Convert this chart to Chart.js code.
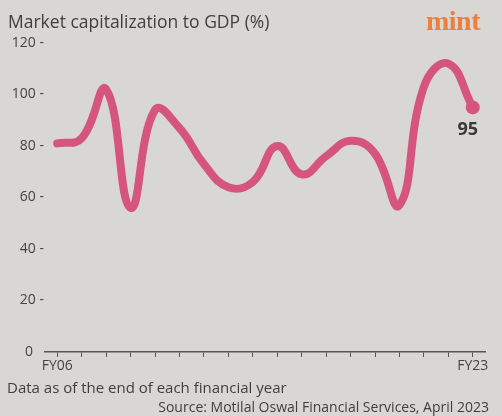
<!DOCTYPE html>
<html>
<head>
<meta charset="utf-8">
<script src="https://cdn.jsdelivr.net/npm/chart.js"></script>
<style>
    body { margin: 0; background: #d9d7d3; }
    #wrap { position: relative; width: 502px; height: 416px; overflow: hidden; background: #d9d7d3; font-family: "Open Sans", sans-serif; color: #3f3f3f; }
    #chartCanvas { position: absolute; left: 0; top: 0; }
    .txt { position: absolute; white-space: nowrap; }
</style>
</head>
<body>
<div id="wrap">
    <canvas id="chartCanvas" width="502" height="416"></canvas>
    <div class="txt" style="left: 8px; top: 9px; font-size: 17.5px;">Market capitalization to GDP (%)</div>
    <div class="txt" style="left: 426px; top: 5px; font-family: 'Liberation Serif', serif; font-weight: bold; font-size: 28px; color: #ec7f3e; letter-spacing: -0.5px;">mint</div>
    <div class="txt" style="left: 7px; top: 377px; font-size: 15px;">Data as of the end of each financial year</div>
    <div class="txt" style="right: 13px; top: 397px; font-size: 14px;">Source: Motilal Oswal Financial Services, April 2023</div>
</div>

<script>
// נתוני הגרף - שנות כספים ויחס שווי שוק לתמ"ג
const years = ['FY06', 'FY07', 'FY08', 'FY09', 'FY10', 'FY11', 'FY12', 'FY13', 'FY14',
               'FY15', 'FY16', 'FY17', 'FY18', 'FY19', 'FY20', 'FY21', 'FY22', 'FY23'];
const mcapToGdp = [81, 83, 102, 56, 94, 87, 73, 64, 66, 80, 69, 76, 82, 77, 57, 103, 112, 95];
const yTicks = [0, 20, 40, 60, 80, 100, 120];

const lineColor = '#d6557f';
const lastIdx = mcapToGdp.length - 1;

// תווית הערך האחרון ליד הנקודה
const lastValueLabel = {
    id: 'lastValueLabel',
    afterDatasetsDraw(chart) {
        const pt = chart.getDatasetMeta(0).data[lastIdx];
        const ctx = chart.ctx;
        ctx.save();
        ctx.font = 'bold 18px "Open Sans", sans-serif';
        ctx.fillStyle = '#3a3a3a';
        ctx.textAlign = 'center';
        ctx.textBaseline = 'middle';
        ctx.fillText(String(mcapToGdp[lastIdx]), pt.x - 5, pt.y + 22);
        ctx.restore();
    }
};

new Chart(document.getElementById('chartCanvas'), {
    type: 'line',
    data: {
        labels: years,
        datasets: [{
            data: mcapToGdp,
            borderColor: lineColor,
            backgroundColor: lineColor,
            borderWidth: 8,
            borderCapStyle: 'round',
            borderJoinStyle: 'round',
            tension: 0.45,
            pointRadius: mcapToGdp.map((v, i) => i === lastIdx ? 7 : 0),
            pointBorderWidth: 0,
            fill: false
        }]
    },
    options: {
        responsive: false,
        animation: false,
        devicePixelRatio: 1,
        layout: { padding: { left: 0, right: 17, top: 43, bottom: 39 } },
        plugins: { legend: { display: false }, tooltip: { enabled: false } },
        scales: {
            x: {
                offset: true,
                grid: { display: true, drawOnChartArea: false, drawTicks: true, tickLength: 5, color: '#555', lineWidth: 1 },
                border: { display: true, color: '#555', width: 1.5 },
                ticks: {
                    autoSkip: false,
                    maxRotation: 0,
                    padding: 1,
                    color: '#444',
                    font: { family: '"Open Sans", sans-serif', size: 14 },
                    callback: (v, i) => (i === 0 || i === lastIdx) ? years[i] : ''
                },
                afterFit: s => { s.height = 25; }
            },
            y: {
                min: 0,
                max: 120,
                afterBuildTicks: s => { s.ticks = yTicks.map(v => ({ value: v })); },
                grid: { display: false, drawTicks: false, tickLength: 0 },
                border: { display: false },
                ticks: {
                    padding: 1,
                    color: '#444',
                    font: { family: '"Open Sans", sans-serif', size: 14 },
                    callback: v => v === 0 ? '0   ' : v + ' -'
                },
                afterFit: s => { s.width = 45; }
            }
        }
    },
    plugins: [lastValueLabel]
});
</script>
</body>
</html>
